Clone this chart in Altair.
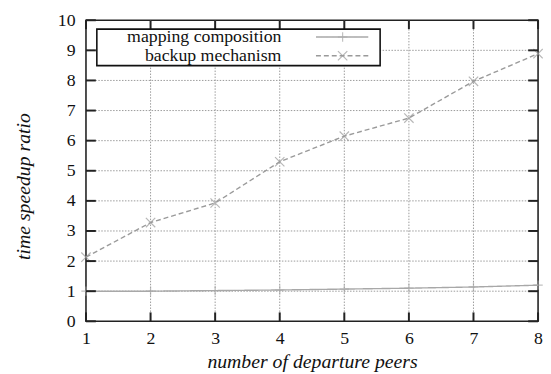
import altair as alt
import pandas as pd

# ---- data ----
peers = [1, 2, 3, 4, 5, 6, 7, 8]
mapping_composition = [1.0, 1.0, 1.02, 1.04, 1.07, 1.10, 1.14, 1.20]
backup_mechanism = [2.13, 3.28, 3.93, 5.30, 6.15, 6.75, 7.97, 8.89]
series_names = ["mapping composition", "backup mechanism"]
x_ticks = [1, 2, 3, 4, 5, 6, 7, 8]
y_ticks = [0, 1, 2, 3, 4, 5, 6, 7, 8, 9, 10]
x_grid = [2, 3, 4, 5, 6, 7]
y_grid = [1, 2, 3, 4, 5, 6, 7, 8, 9]

rows = []
for p, v in zip(peers, mapping_composition):
    rows.append({"peers": p, "ratio": v, "series": series_names[0]})
for p, v in zip(peers, backup_mechanism):
    rows.append({"peers": p, "ratio": v, "series": series_names[1]})
df = pd.DataFrame(rows)
legend_df = pd.DataFrame({"series": series_names})

W, H = 458, 305
FONT = "Liberation Serif"
PLUS = "M0,-1L0,1M-1,0L1,0"
CROSS = "M-1,-1L1,1M-1,1L1,-1"
LINE_GRAY = "#9a9a9a"
DARK = "#222222"

xs = alt.Scale(domain=[1, 8], nice=False, zero=False)
ys = alt.Scale(domain=[0, 10], nice=False)
col_scale = alt.Scale(domain=series_names, range=["#a8a8a8", LINE_GRAY])
dash_scale = alt.Scale(domain=series_names, range=[[1, 0], [5, 3]])
shape_scale = alt.Scale(domain=series_names, range=[PLUS, CROSS])

x_axis = alt.Axis(values=x_ticks, format="d", tickSize=0, domain=False, grid=False,
                  labelOverlap=False, labelFlush=False,
                  labelFont=FONT, labelFontSize=18, labelColor="#111", labelPadding=8,
                  title="number of departure peers", titleFont=FONT, titleFontSize=20,
                  titleFontStyle="italic", titleFontWeight="normal", titleColor="#111",
                  titlePadding=5)
y_axis = alt.Axis(values=y_ticks, format="d", tickSize=0, domain=False, grid=False,
                  labelOverlap=False, labelFlush=False,
                  labelFont=FONT, labelFontSize=18, labelColor="#111", labelPadding=11,
                  title="time speedup ratio", titleFont=FONT, titleFontSize=20,
                  titleFontStyle="italic", titleFontWeight="normal", titleColor="#111",
                  titlePadding=24, titleY=168)


def X(field):
    return alt.X(field, scale=xs, axis=x_axis, title="number of departure peers")


def Y(field):
    return alt.Y(field, scale=ys, axis=y_axis, title="time speedup ratio")


base = alt.Chart(df)

lines = base.mark_line(strokeWidth=1.4).encode(
    x=X("peers:Q"), y=Y("ratio:Q"),
    color=alt.Color("series:N", scale=col_scale, legend=None),
    strokeDash=alt.StrokeDash("series:N", scale=dash_scale, legend=None),
)
points = base.mark_point(filled=False, size=90, strokeWidth=1.2, clip=False).encode(
    x=X("peers:Q"), y=Y("ratio:Q"),
    color=alt.Color("series:N", scale=col_scale, legend=None),
    shape=alt.Shape("series:N", scale=shape_scale, legend=None),
)

grid_x = alt.Chart(pd.DataFrame({"g": x_grid})).mark_rule(
    color="#9a9a9a", strokeWidth=1, strokeDash=[1.5, 1.5]).encode(x=X("g:Q"))
grid_y = alt.Chart(pd.DataFrame({"g": y_grid})).mark_rule(
    color="#9a9a9a", strokeWidth=1, strokeDash=[1.5, 1.5]).encode(y=Y("g:Q"))

xt = alt.Chart(pd.DataFrame({"t": x_ticks}))
yt = alt.Chart(pd.DataFrame({"t": y_ticks}))
tick_b = xt.mark_rule(color=DARK, strokeWidth=2).encode(
    x=X("t:Q"), y=alt.value(H), y2=alt.value(H - 9))
tick_t = xt.mark_rule(color=DARK, strokeWidth=2).encode(
    x=X("t:Q"), y=alt.value(0), y2=alt.value(9))
tick_l = yt.mark_rule(color=DARK, strokeWidth=2).encode(
    y=Y("t:Q"), x=alt.value(0), x2=alt.value(10))
tick_r = yt.mark_rule(color=DARK, strokeWidth=2).encode(
    y=Y("t:Q"), x=alt.value(W), x2=alt.value(W - 10))

# ---- legend (gnuplot style: text, then sample) ----
lg = alt.Chart(legend_df)
leg_box = lg.transform_filter(alt.datum.series == series_names[0]).mark_rect(
    fill="white", stroke="#111", strokeWidth=1.6).encode(
    x=alt.value(11), x2=alt.value(298), y=alt.value(9), y2=alt.value(46))
leg_layers = [leg_box]
for i, name in enumerate(series_names):
    yy = 17 + 19 * i
    sub = lg.transform_filter(alt.datum.series == name)
    leg_layers.append(sub.mark_text(align="right", baseline="middle", font=FONT,
                                    fontSize=18, color="#111").encode(
        x=alt.value(198), y=alt.value(yy), text="series:N"))
    leg_layers.append(sub.mark_rule(strokeWidth=1.4).encode(
        x=alt.value(233), x2=alt.value(286), y=alt.value(yy),
        color=alt.Color("series:N", scale=col_scale, legend=None),
        strokeDash=alt.StrokeDash("series:N", scale=dash_scale, legend=None)))
    leg_layers.append(sub.mark_point(filled=False, size=90, strokeWidth=1.2).encode(
        x=alt.value(260), y=alt.value(yy),
        color=alt.Color("series:N", scale=col_scale, legend=None),
        shape=alt.Shape("series:N", scale=shape_scale, legend=None)))

chart = alt.layer(
    grid_x, grid_y, lines, points, tick_b, tick_t, tick_l, tick_r, *leg_layers
).properties(
    width=W, height=H,
    autosize=alt.AutoSizeParams(type="none"),
    padding={"left": 79, "top": 10, "right": 5, "bottom": 51},
    background="white",
).configure_view(stroke=DARK, strokeWidth=1.6)

chart.save("out.html", embed_options={"renderer": "svg", "actions": False})
